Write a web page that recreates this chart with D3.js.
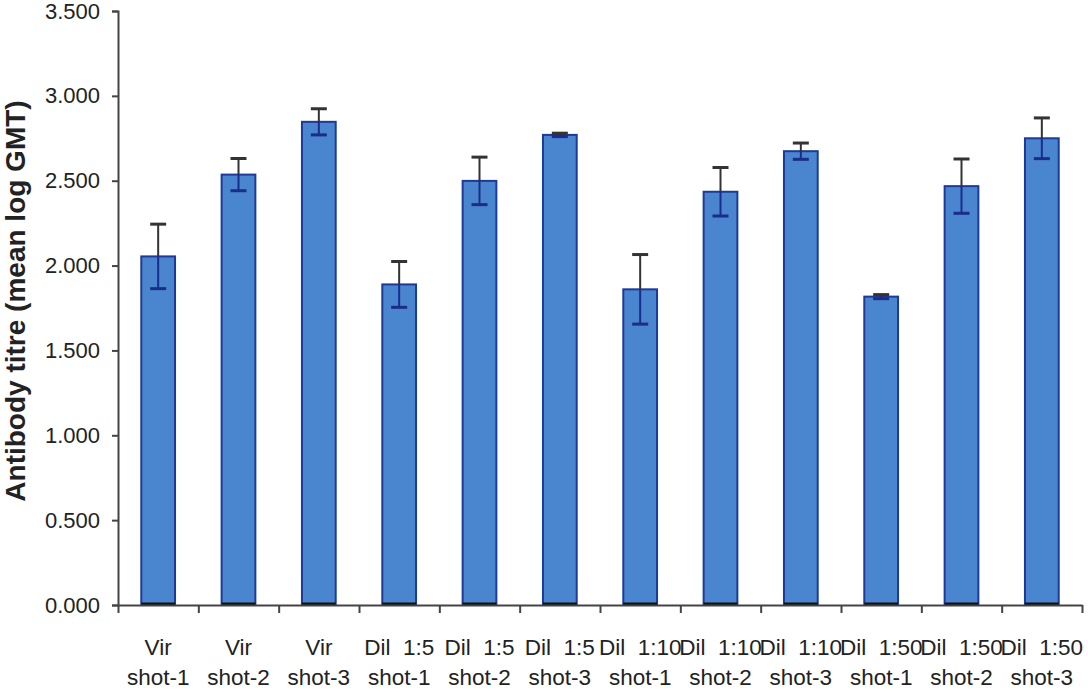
<!DOCTYPE html>
<html>
<head>
<meta charset="utf-8">
<script src="https://cdn.jsdelivr.net/npm/d3@7/dist/d3.min.js"></script>
<style>
  body { margin: 0; background: #fff; }
  svg text { font-family: "Liberation Sans", Arial, sans-serif; }
</style>
</head>
<body>
<svg id="chart" width="1088" height="692"></svg>
<script>
// chart data
const groupLabels = ["Vir", "Vir", "Vir", "Dil  1:5", "Dil  1:5", "Dil  1:5",
                     "Dil  1:10", "Dil  1:10", "Dil  1:10", "Dil  1:50", "Dil  1:50", "Dil  1:50"];
const shotLabels = ["shot-1", "shot-2", "shot-3", "shot-1", "shot-2", "shot-3",
                    "shot-1", "shot-2", "shot-3", "shot-1", "shot-2", "shot-3"];
const meanTitre = [2.054, 2.536, 2.847, 1.889, 2.499, 2.770, 1.860, 2.435, 2.674, 1.817, 2.468, 2.750];
const errTitre = [0.19, 0.095, 0.077, 0.135, 0.14, 0.01, 0.205, 0.143, 0.048, 0.012, 0.16, 0.12];
const yTicks = [0, 0.5, 1, 1.5, 2, 2.5, 3, 3.5];

const svg = d3.select("#chart");
const margin = { top: 11, right: 6, bottom: 87, left: 118 };
const width = 1088, height = 692;
const innerBottom = height - margin.bottom;   // y of 0.000
const innerRight = width - margin.right;

const keys = meanTitre.map((d, i) => i);

// bars centred in equal slots, slot edges on the range ends
const xScale = d3.scaleBand()
    .domain(keys)
    .range([margin.left, innerRight])
    .paddingInner(0.58)
    .paddingOuter(0.29);

// used only for the slot boundary ticks
const slotScale = d3.scaleLinear()
    .domain([0, keys.length])
    .range([margin.left, innerRight]);

const yScale = d3.scaleLinear()
    .domain([0, 3.5])
    .range([innerBottom, margin.top]);

// bars
svg.selectAll(".bar")
    .data(keys)
    .enter()
    .append("rect")
    .attr("class", "bar")
    .attr("x", i => xScale(i))
    .attr("y", i => yScale(meanTitre[i]))
    .attr("width", xScale.bandwidth())
    .attr("height", i => yScale(0) - yScale(meanTitre[i]))
    .attr("fill", "#4a85cf")
    .attr("stroke", "#1d3a98")
    .attr("stroke-width", 2);

// dark base line at the foot of each bar
svg.selectAll(".base")
    .data(keys)
    .enter()
    .append("line")
    .attr("x1", i => xScale(i))
    .attr("x2", i => xScale(i) + xScale.bandwidth())
    .attr("y1", yScale(0) - 1)
    .attr("y2", yScale(0) - 1)
    .attr("stroke", "#111")
    .attr("stroke-width", 3);

// error bars
const capW = 8;
const err = svg.append("g");
keys.forEach(i => {
    const cx = xScale(i) + xScale.bandwidth() / 2;
    const top = yScale(meanTitre[i] + errTitre[i]);
    const mid = yScale(meanTitre[i]);
    const bot = yScale(meanTitre[i] - errTitre[i]);
    // above the bar
    err.append("line").attr("x1", cx).attr("x2", cx).attr("y1", top).attr("y2", mid)
        .attr("stroke", "#333").attr("stroke-width", 2);
    err.append("line").attr("x1", cx - capW).attr("x2", cx + capW).attr("y1", top).attr("y2", top)
        .attr("stroke", "#333").attr("stroke-width", 3);
    // inside the bar
    err.append("line").attr("x1", cx).attr("x2", cx).attr("y1", mid).attr("y2", bot)
        .attr("stroke", "#1a2c8c").attr("stroke-width", 2);
    err.append("line").attr("x1", cx - capW).attr("x2", cx + capW).attr("y1", bot).attr("y2", bot)
        .attr("stroke", "#1a2c8c").attr("stroke-width", 3);
});

// y axis
const yAxis = d3.axisLeft(yScale)
    .tickValues(yTicks)
    .tickFormat(d3.format(".3f"))
    .tickSize(6)
    .tickPadding(12);

const gy = svg.append("g")
    .attr("transform", `translate(${margin.left}, 0)`)
    .call(yAxis);
gy.select(".domain").attr("stroke", "#444").attr("stroke-width", 2);
gy.selectAll(".tick line").attr("stroke", "#444").attr("stroke-width", 2);
gy.selectAll("text")
    .style("font-size", "22px")
    .style("fill", "#222");

// x axis (slot boundary ticks only)
const xAxis = d3.axisBottom(slotScale)
    .tickValues(d3.range(keys.length + 1))
    .tickFormat("")
    .tickSize(8)
    .tickSizeOuter(0);

const gx = svg.append("g")
    .attr("transform", `translate(0, ${innerBottom})`)
    .call(xAxis);
gx.select(".domain").attr("stroke", "#444").attr("stroke-width", 2);
gx.selectAll(".tick line").attr("stroke", "#444").attr("stroke-width", 2);

// two-line category labels
const labels = svg.append("g");
keys.forEach(i => {
    const cx = xScale(i) + xScale.bandwidth() / 2;
    labels.append("text")
        .attr("x", cx)
        .attr("y", 655)
        .attr("text-anchor", "middle")
        .style("white-space", "pre")
        .style("font-size", "22.5px")
        .style("fill", "#222")
        .text(groupLabels[i]);
    labels.append("text")
        .attr("x", cx)
        .attr("y", 685)
        .attr("text-anchor", "middle")
        .style("font-size", "22.5px")
        .style("fill", "#222")
        .text(shotLabels[i]);
});

// y axis title
svg.append("text")
    .attr("transform", "rotate(-90)")
    .attr("x", -301)
    .attr("y", 25)
    .attr("text-anchor", "middle")
    .style("font-size", "28px")
    .style("font-weight", "bold")
    .style("fill", "#222")
    .text("Antibody titre (mean log GMT)");
</script>
</body>
</html>
